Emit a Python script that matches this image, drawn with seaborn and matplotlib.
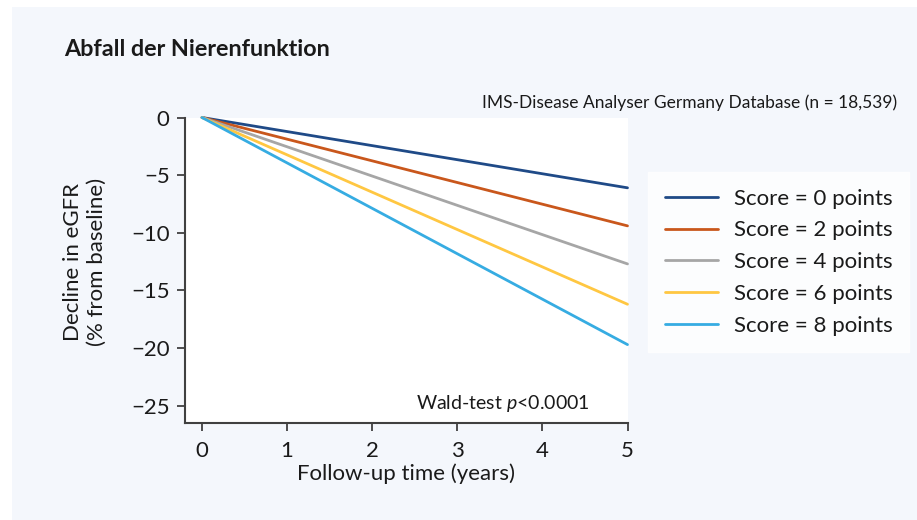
import pandas as pd
import matplotlib.pyplot as plt
import seaborn as sns
from matplotlib.patches import Rectangle

# data: linear decline from baseline to year 5
years = [0, 5]
scores = ["Score = 0 points", "Score = 2 points", "Score = 4 points",
          "Score = 6 points", "Score = 8 points"]
decline_5y = [-6.1, -9.4, -12.7, -16.2, -19.7]
colors = ["#1f4a87", "#c9571c", "#a6a6a6", "#ffc742", "#36ace2"]

yticks = [0, -5, -10, -15, -20, -25]
xticks = [0, 1, 2, 3, 4, 5]

rows = []
for s, d in zip(scores, decline_5y):
    rows.append({"year": years[0], "decline": 0.0, "score": s})
    rows.append({"year": years[1], "decline": d, "score": s})
df = pd.DataFrame(rows)

sns.set_theme(style="white")
plt.rcParams["font.family"] = ["Lato", "DejaVu Sans"]
plt.rcParams["mathtext.fontset"] = "custom"
plt.rcParams["mathtext.it"] = "Lato:italic"
plt.rcParams["mathtext.rm"] = "Lato"

PANEL = "#f4f7fc"
INK = "#1a1a1a"

fig = plt.figure(figsize=(9.17, 5.2), dpi=100)
fig.patch.set_facecolor("white")
fig.patches.append(Rectangle((12 / 917, 0), 1, 1 - 7 / 520, transform=fig.transFigure,
                             facecolor=PANEL, edgecolor="none", zorder=-10))

ax = fig.add_axes([185 / 917, 1 - 423 / 520, (627.5 - 185) / 917, (423 - 117.5) / 520])
ax.set_facecolor("white")

sns.lineplot(data=df, x="year", y="decline", hue="score", hue_order=scores,
             palette=colors, linewidth=2.0, ax=ax, clip_on=False)

ax.set_xlim(-0.2, 5.0)
ax.set_ylim(-26.5, 0)
ax.set_xticks(xticks)
ax.set_yticks(yticks)
ax.set_yticklabels(["0"] + ["\u2212" + str(-t) for t in yticks[1:]])
ax.tick_params(axis="both", direction="out", length=6, width=1.3, color="#404040",
               labelsize=16, labelcolor=INK, pad=5, bottom=True, left=True)
ax.tick_params(axis="x", pad=7)

for side in ["top", "right"]:
    ax.spines[side].set_visible(False)
for side in ["left", "bottom"]:
    ax.spines[side].set_color("#404040")
    ax.spines[side].set_linewidth(1.5)

ax.set_xlabel("Follow-up time (years)", fontsize=16, color=INK, labelpad=2)
ax.set_ylabel("")
fig.text(85 / 917, 1 - 262 / 520, "Decline in eGFR\n(% from baseline)", fontsize=16,
         color=INK, rotation=90, ha="center", va="center", linespacing=1.25)

ax.text(4.56, -24.8, "Wald-test $\\it{p}$<0.0001", fontsize=14, color=INK,
        ha="right", va="center")

leg = ax.legend(loc="upper left", bbox_to_anchor=(648 / 917, 1 - 172 / 520),
                bbox_transform=fig.transFigure, frameon=True, fontsize=16,
                handlelength=2.4, handletextpad=0.7, borderpad=0.75,
                borderaxespad=0, labelspacing=0.53, fancybox=False)
leg.get_frame().set_facecolor("white")
leg.get_frame().set_edgecolor("white")
for t in leg.get_texts():
    t.set_color(INK)

fig.text(64 / 917, 1 - 50 / 520, "Abfall der Nierenfunktion", fontsize=16.8,
         fontweight="bold", color=INK, ha="left", va="center")
fig.text(897 / 917, 1 - 103 / 520, "IMS-Disease Analyser Germany Database (n = 18,539)",
         fontsize=12.5, color=INK, ha="right", va="center")

fig.savefig("out.png", dpi=100, facecolor=fig.get_facecolor())
